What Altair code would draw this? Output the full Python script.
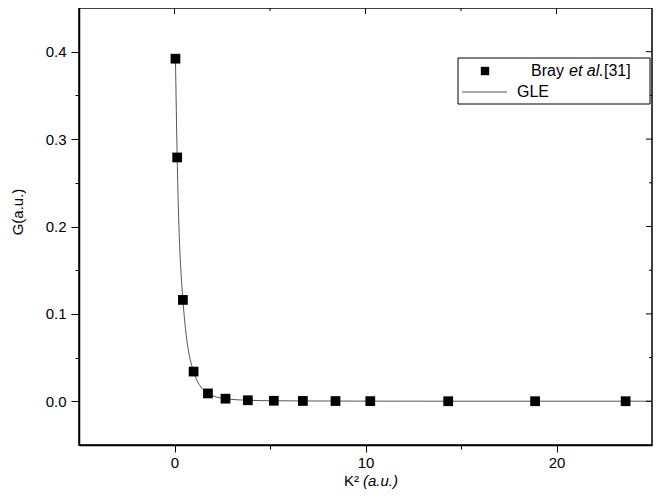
import altair as alt
import pandas as pd

# Reference data (Bray et al. [31])
bray_k2 = [0.05, 0.14, 0.44, 1.0, 1.75, 2.67, 3.84, 5.2, 6.72, 8.43, 10.25, 14.33, 18.88, 23.62]
bray_g = [0.392, 0.279, 0.116, 0.034, 0.009, 0.003, 0.0012, 0.0006, 0.0004, 0.0003, 0.0002, 0.0001, 0.0001, 0.0001]

# GLE curve
gle_k2 = [0.05, 0.14, 0.44, 1.0, 1.75, 2.67, 3.84, 5.2, 6.72, 8.43, 10.25, 14.33, 18.88, 23.62, 25.0]
gle_g = [0.392, 0.279, 0.116, 0.034, 0.009, 0.003, 0.0012, 0.0006, 0.0004, 0.0003, 0.0002, 0.0001, 0.0001, 0.0001, 0.0001]

x_ticks = [0, 5, 10, 15, 20]
x_major = [0, 10, 20]
y_ticks = [0.0, 0.05, 0.1, 0.15, 0.2, 0.25, 0.3, 0.35, 0.4]
y_major = [0.0, 0.1, 0.2, 0.3, 0.4]

W, H = 573, 437
FONT = "Liberation Sans"
FS = 15

bray = pd.DataFrame({"k2": bray_k2, "g": bray_g})
gle = pd.DataFrame({"k2": gle_k2, "g": gle_g})

xs = alt.Scale(domain=[-5, 25], nice=False, zero=False)
ys = alt.Scale(domain=[-0.05, 0.45], nice=False, zero=False)

x_axis = alt.Axis(
    values=x_ticks,
    labelExpr="datum.value % 10 == 0 ? datum.label : ''",
    tickSize={"condition": {"test": "datum.value % 10 == 0", "value": 7}, "value": 4},
    title=None, grid=False, labelPadding=3,
)
y_axis = alt.Axis(
    values=y_ticks,
    format=".1f",
    labelExpr="round(datum.value * 100) % 10 == 0 ? datum.label : ''",
    tickSize={"condition": {"test": "round(datum.value * 100) % 10 == 0", "value": 8}, "value": 4},
    title=None, grid=False, labelPadding=5,
)

line = alt.Chart(gle).mark_line(color="#555555", strokeWidth=1, interpolate="monotone").encode(
    x=alt.X("k2:Q", scale=xs, axis=x_axis),
    y=alt.Y("g:Q", scale=ys, axis=y_axis),
)
pts = alt.Chart(bray).mark_point(shape="square", filled=True, color="black", size=95, opacity=1).encode(
    x=alt.X("k2:Q", scale=xs),
    y=alt.Y("g:Q", scale=ys),
)

# inward ticks on top and right frame
top_t = pd.DataFrame({"v": x_ticks, "len": [6 if v in x_major else 3 for v in x_ticks]})
top_ticks = alt.Chart(top_t).mark_rule(color="black", strokeWidth=1).encode(
    x=alt.X("v:Q", scale=xs), y=alt.value(0), y2=alt.Y2("len:Q")
).transform_calculate(len="datum.len")
top_ticks = alt.Chart(top_t).mark_tick(color="black", thickness=1, orient="vertical").encode(
    x=alt.X("v:Q", scale=xs), y=alt.value(0),
)
top_major = alt.Chart(pd.DataFrame({"v": x_major})).mark_rule(color="black", strokeWidth=1).encode(
    x=alt.X("v:Q", scale=xs), y=alt.value(0), y2=alt.value(6)
)
top_minor = alt.Chart(pd.DataFrame({"v": [v for v in x_ticks if v not in x_major]})).mark_rule(color="black", strokeWidth=1).encode(
    x=alt.X("v:Q", scale=xs), y=alt.value(0), y2=alt.value(3)
)
right_major = alt.Chart(pd.DataFrame({"v": y_major})).mark_rule(color="black", strokeWidth=1).encode(
    y=alt.Y("v:Q", scale=ys), x=alt.value(W), x2=alt.value(W - 6)
)
right_minor = alt.Chart(pd.DataFrame({"v": [v for v in y_ticks if v not in y_major]})).mark_rule(color="black", strokeWidth=1).encode(
    y=alt.Y("v:Q", scale=ys), x=alt.value(W), x2=alt.value(W - 3)
)

one = alt.Data(values=[{}])

# legend
leg_box = alt.Chart(one).mark_rect(fill="white", stroke="black", strokeWidth=1).encode(
    x=alt.value(379), x2=alt.value(571), y=alt.value(50), y2=alt.value(96)
)
leg_sq = alt.Chart(one).mark_point(shape="square", filled=True, color="black", size=70, opacity=1).encode(
    x=alt.value(406), y=alt.value(63)
)
leg_t1 = alt.Chart(one).mark_text(align="left", baseline="middle", font=FONT, fontSize=16, color="black").encode(
    x=alt.value(452), y=alt.value(63), text=alt.value("Bray")
)
leg_t2 = alt.Chart(one).mark_text(align="left", baseline="middle", font=FONT, fontSize=16, fontStyle="italic", color="black").encode(
    x=alt.value(490), y=alt.value(63), text=alt.value("et al.")
)
leg_t3 = alt.Chart(one).mark_text(align="left", baseline="middle", font=FONT, fontSize=16, color="black").encode(
    x=alt.value(525), y=alt.value(63), text=alt.value("[31]")
)
leg_line = alt.Chart(one).mark_rule(color="#555555", strokeWidth=1).encode(
    x=alt.value(383), x2=alt.value(428), y=alt.value(84)
)
leg_t4 = alt.Chart(one).mark_text(align="left", baseline="middle", font=FONT, fontSize=16, color="black").encode(
    x=alt.value(438), y=alt.value(84), text=alt.value("GLE")
)

# axis titles
ytitle = alt.Chart(one).mark_text(align="center", baseline="middle", font=FONT, fontSize=FS, angle=270, color="black").encode(
    x=alt.value(-61), y=alt.value(204), text=alt.value("G(a.u.)")
)
xt1 = alt.Chart(one).mark_text(align="right", baseline="middle", font=FONT, fontSize=FS, color="black").encode(
    x=alt.value(280), y=alt.value(473), text=alt.value("K²")
)
xt2 = alt.Chart(one).mark_text(align="left", baseline="middle", font=FONT, fontSize=FS, fontStyle="italic", color="black").encode(
    x=alt.value(284), y=alt.value(473), text=alt.value("(a.u.)")
)

chart = alt.layer(
    line, pts, top_major, top_minor, right_major, right_minor,
    leg_box, leg_sq, leg_t1, leg_t2, leg_t3, leg_line, leg_t4,
    ytitle, xt1, xt2,
).properties(
    width=W, height=H,
    autosize=alt.AutoSizeParams(type="none"),
    padding={"left": 71, "top": 0, "right": 3, "bottom": 46},
    background="white",
).configure_view(
    stroke="black", strokeWidth=1.5
).configure_axis(
    labelFont=FONT, labelFontSize=FS, labelColor="black",
    domainColor="black", domainWidth=1.5, tickColor="black", tickWidth=1,
)

chart.save("out.html", embed_options={"renderer": "svg", "actions": False})
